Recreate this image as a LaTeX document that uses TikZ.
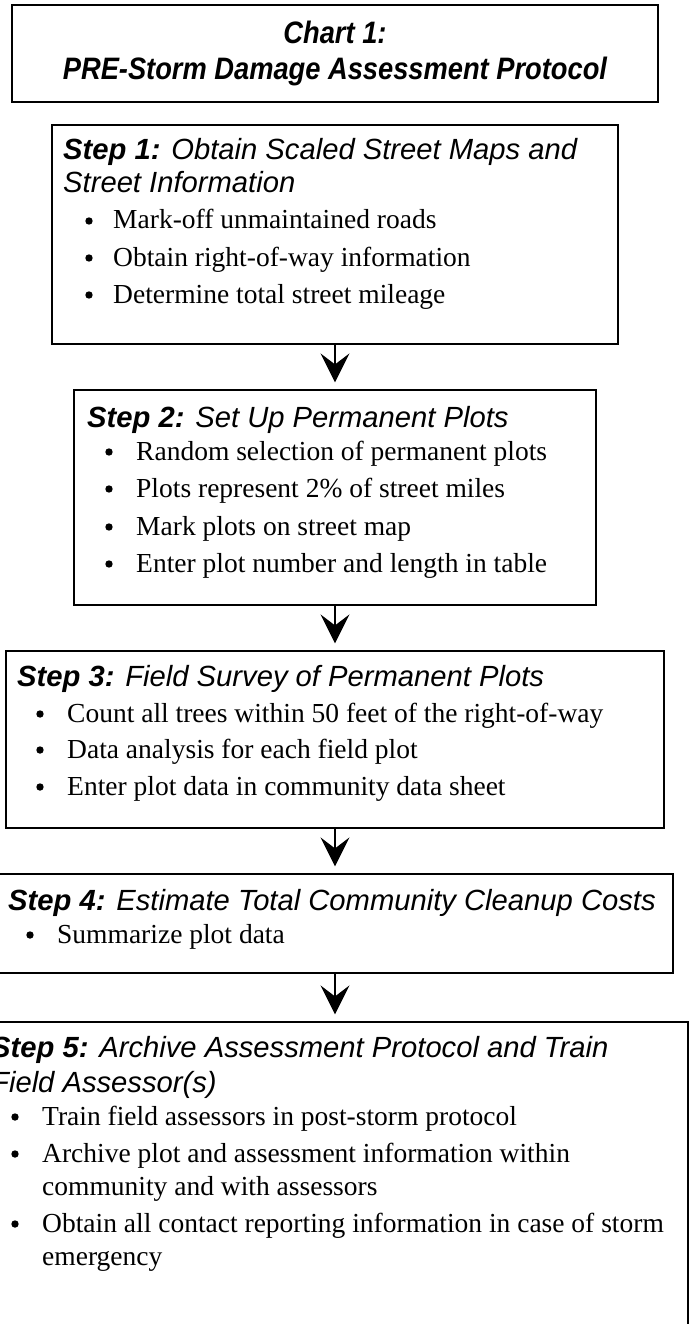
\documentclass[tikz,border=0pt]{standalone}
\usepackage{fontspec}
\setmainfont{Liberation Serif}
\newfontfamily\hdfont{Liberation Sans}
\usetikzlibrary{arrows.meta}
\begin{document}
\begin{tikzpicture}[x=1pt,y=-1pt,
 stepbox/.style={draw,line width=1.2pt,inner sep=0pt},
 titlebox/.style={draw,line width=2.5pt,inner sep=0pt},
 hd/.style={anchor=base west,inner sep=0pt,font=\hdfont\itshape\fontsize{29.2}{33}\selectfont},
 ttl/.style={anchor=base,inner sep=0pt,xscale=0.88,font=\hdfont\bfseries\itshape\fontsize{31}{35}\selectfont},
 bl/.style={anchor=base west,inner sep=0pt,font=\fontsize{27.5}{33}\selectfont},
 dot/.style={circle,fill,inner sep=0pt,minimum size=7.4pt},
 arr/.style={line width=1.3pt,-{Stealth[length=29pt,width=29pt,inset=11pt]}}]
\useasboundingbox (0,0) rectangle (691,1324);
\clip (0,0) rectangle (691,1324);

% boxes
\node[titlebox,minimum width=646pt,minimum height=97pt] (s0) at (335,53.5) {};
\node[stepbox,minimum width=566pt,minimum height=219pt] (s1) at (335,234.5) {};
\node[stepbox,minimum width=522pt,minimum height=215pt] (s2) at (335,497.5) {};
\node[stepbox,minimum width=658pt,minimum height=177pt] (s3) at (335,739.5) {};
\node[stepbox,minimum width=676pt,minimum height=99pt] (s4) at (335,923.5) {};
\node[stepbox,minimum width=706pt,minimum height=338pt] (s5) at (335,1191) {};

% title
\node[ttl] (t1) at (335,44) {Chart 1:};
\node[ttl] (t2) at (335,80) {PRE-Storm Damage Assessment Protocol};

% step 1
\node[hd] (h1a) at (63,160) {{\bfseries Step 1:} Obtain Scaled Street Maps and};
\node[hd] (h1b) at (63,193) {Street Information};
\node[dot] (b1a) at (89,221) {};
\node[bl] (x1a) at (113,229) {Mark-off unmaintained roads};
\node[dot] (b1b) at (89,258) {};
\node[bl] (x1b) at (113,266) {Obtain right-of-way information};
\node[dot] (b1c) at (89,295) {};
\node[bl] (x1c) at (113,303) {Determine total street mileage};

% step 2
\node[hd] (h2) at (87,427) {{\bfseries Step 2:} Set Up Permanent Plots};
\node[dot] (b2a) at (109,452) {};
\node[bl] (x2a) at (136,460) {Random selection of permanent plots};
\node[dot] (b2b) at (109,489) {};
\node[bl] (x2b) at (136,497) {Plots represent 2\% of street miles};
\node[dot] (b2c) at (109,527) {};
\node[bl] (x2c) at (136,535) {Mark plots on street map};
\node[dot] (b2d) at (109,564) {};
\node[bl] (x2d) at (136,572) {Enter plot number and length in table};

% step 3
\node[hd] (h3) at (17,686) {{\bfseries Step 3:} Field Survey of Permanent Plots};
\node[dot] (b3a) at (40,714) {};
\node[bl] (x3a) at (67,722) {Count all trees within 50 feet of the right-of-way};
\node[dot] (b3b) at (40,750) {};
\node[bl] (x3b) at (67,758) {Data analysis for each field plot};
\node[dot] (b3c) at (40,787) {};
\node[bl] (x3c) at (67,795) {Enter plot data in community data sheet};

% step 4
\node[hd] (h4) at (8,910) {{\bfseries Step 4:} Estimate Total Community Cleanup Costs};
\node[dot] (b4a) at (30,935) {};
\node[bl] (x4a) at (57,943) {Summarize plot data};

% step 5
\node[hd] (h5a) at (-9,1057) {{\bfseries Step 5:} Archive Assessment Protocol and Train};
\node[hd] (h5b) at (-9,1092) {Field Assessor(s)};
\node[dot] (b5a) at (15,1117) {};
\node[bl] (x5a) at (42,1125) {Train field assessors in post-storm protocol};
\node[dot] (b5b) at (15,1154) {};
\node[bl] (x5b) at (42,1162) {Archive plot and assessment information within};
\node[bl] (x5c) at (42,1195) {community and with assessors};
\node[dot] (b5c) at (15,1224) {};
\node[bl] (x5d) at (42,1232) {Obtain all contact reporting information in case of storm};
\node[bl] (x5e) at (42,1265) {emergency};

% connectors
\draw[arr] (s1.south) -- ([yshift=7pt]s2.north);
\draw[arr] (s2.south) -- ([yshift=7pt]s3.north);
\draw[arr] (s3.south) -- ([yshift=7pt]s4.north);
\draw[arr] (s4.south) -- ([yshift=7pt]s5.north);
\end{tikzpicture}
\end{document}
